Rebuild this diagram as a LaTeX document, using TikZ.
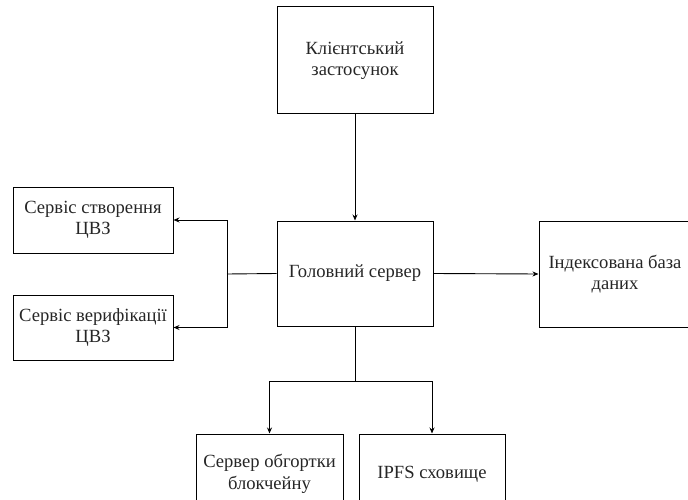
\documentclass[tikz,border=0pt]{standalone}
\usepackage{fontspec}
\setmainfont{Liberation Serif}
\usepackage{tikz}
\usetikzlibrary{arrows.meta}
\usetikzlibrary{positioning}
\tikzset{box/.style = {draw, line width = 1pt, align = center,
                       font = \fontsize{18.6}{21.5}\selectfont, inner sep = 1pt,
                       text = black!85}}
\tikzset{arr/.style = {line width = 0.9pt, -{Stealth[length = 6pt, width = 5pt]}}}
\tikzset{ln/.style = {line width = 0.9pt}}

\begin{document}
\begin{tikzpicture}[x = 1pt, y = -1pt]
      \useasboundingbox (0, 0) rectangle (688, 500);

      \node [box, minimum width = 156, minimum height = 107] (client) at (355, 60.5) {Клієнтський\\застосунок};
      \node [box, minimum width = 156, minimum height = 105] (mainsrv) at (355, 273.5) {Головний сервер};
      \node [box, minimum width = 160, minimum height = 66] (create) at (93, 220) {Сервіс створення\\ЦВЗ};
      \node [box, minimum width = 160, minimum height = 65] (verify) at (93, 327.5) {Сервіс верифікації\\ЦВЗ};
      \node [box, minimum width = 152, minimum height = 106] (index) at (615, 274) {Індексована база\\даних};
      \node [box, minimum width = 147, minimum height = 80] (chain) at (269.5, 474) {Сервер обгортки\\блокчейну};
      \node [box, minimum width = 146, minimum height = 80] (ipfs) at (432, 474) {IPFS сховище};

      \coordinate (lsplit) at (227, 274);
      \coordinate (bsplit) at (355, 381);

      \draw [arr] (client) -- (mainsrv);
      \draw [ln] (mainsrv.west) -- (lsplit);
      \draw [arr] (lsplit) |- (create.east);
      \draw [arr] (lsplit) |- (verify.east);
      \draw [arr] (mainsrv.east) -- (index.west);
      \draw [ln] (mainsrv.south) -- (bsplit);
      \draw [arr] (bsplit) -| (chain.north);
      \draw [arr] (bsplit) -| (ipfs.north);
\end{tikzpicture}
\end{document}
